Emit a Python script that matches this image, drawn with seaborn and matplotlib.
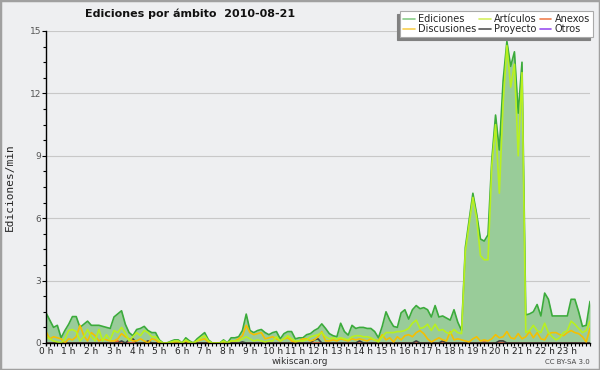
import numpy as np
import pandas as pd
import matplotlib
matplotlib.use("Agg")
import matplotlib.pyplot as plt
from matplotlib.lines import Line2D
from matplotlib.patches import Rectangle
import seaborn as sns

# ---- data (10-minute steps, 0h .. 24h) ----
ediciones = [
    1.45, 1.1, 0.75, 0.85, 0.25, 0.6,
    0.9, 1.27, 1.27, 0.75, 0.9, 1.05,
    0.85, 0.85, 0.85, 0.8, 0.75, 0.7,
    1.25, 1.4, 1.55, 0.9, 0.5, 0.35,
    0.65, 0.7, 0.8, 0.6, 0.5, 0.5,
    0.15, 0.0, 0.0, 0.08, 0.15, 0.15,
    0.0, 0.25, 0.1, 0.0, 0.2, 0.35,
    0.5, 0.15, 0.0, 0.0, 0.0, 0.15,
    0.0, 0.25, 0.25, 0.3, 0.6, 1.39,
    0.6, 0.5, 0.6, 0.65, 0.5, 0.4,
    0.5, 0.55, 0.2, 0.45, 0.55, 0.55,
    0.2, 0.25, 0.25, 0.4, 0.45, 0.6,
    0.7, 0.92, 0.7, 0.45, 0.35, 0.3,
    0.95, 0.55, 0.38, 0.85, 0.7, 0.75,
    0.75, 0.7, 0.7, 0.55, 0.25, 0.8,
    1.5, 1.1, 0.8, 0.75, 1.45, 1.6,
    1.15, 1.6, 1.8, 1.65, 1.7, 1.6,
    1.25, 1.8, 1.25, 1.3, 1.2, 1.1,
    1.6, 1.0, 0.6, 4.6, 5.9, 7.2,
    6.2, 5.0, 4.9, 5.2, 8.8, 10.96,
    9.28, 12.6, 14.5, 13.3, 14.0, 11.05,
    13.5, 1.35, 1.4, 1.5, 1.85, 1.3,
    2.4, 2.1, 1.3, 1.3, 1.3, 1.3,
    1.3, 2.1, 2.1, 1.5, 0.8, 0.85,
    2.0,
]
articulos = [
    0.3, 0.2, 0.1, 0.05, 0.0, 0.2,
    0.6, 0.65, 0.55, 0.1, 0.3, 0.65,
    0.3, 0.1, 0.65, 0.1, 0.4, 0.15,
    0.6, 0.5, 0.75, 0.5, 0.1, 0.3,
    0.5, 0.35, 0.6, 0.5, 0.3, 0.3,
    0.1, 0.0, 0.0, 0.05, 0.1, 0.1,
    0.0, 0.15, 0.05, 0.0, 0.1, 0.25,
    0.35, 0.1, 0.0, 0.0, 0.0, 0.1,
    0.0, 0.1, 0.1, 0.1, 0.2, 0.3,
    0.2, 0.1, 0.15, 0.1, 0.05, 0.1,
    0.1, 0.3, 0.1, 0.2, 0.35, 0.2,
    0.1, 0.1, 0.1, 0.15, 0.3, 0.35,
    0.4, 0.5, 0.3, 0.2, 0.25, 0.2,
    0.25, 0.2, 0.15, 0.3, 0.35, 0.35,
    0.3, 0.3, 0.25, 0.15, 0.05, 0.3,
    0.5, 0.5, 0.5, 0.55, 0.55, 0.6,
    0.7, 0.95, 1.1, 0.7, 0.75, 0.9,
    0.6, 0.9, 0.6, 0.65, 0.5, 0.45,
    0.65, 0.5, 0.45, 4.4, 5.7, 7.0,
    6.0, 4.2, 4.0, 4.0, 8.5, 10.5,
    7.2, 11.5, 14.3, 12.3, 13.4, 9.0,
    13.0, 0.5, 0.6, 0.85, 0.6, 0.5,
    0.95, 0.5, 0.3, 0.15, 0.25, 0.5,
    0.6, 1.05, 0.9, 0.7, 0.5, 0.6,
    1.05,
]
discusiones = [
    0.55, 0.2, 0.3, 0.25, 0.2, 0.0,
    0.2, 0.15, 0.3, 0.85, 0.35, 0.1,
    0.5, 0.35, 0.1, 0.2, 0.15, 0.1,
    0.1, 0.2, 0.45, 0.3, 0.2, 0.1,
    0.1, 0.2, 0.1, 0.0, 0.2, 0.15,
    0.0, 0.0, 0.0, 0.0, 0.05, 0.05,
    0.0, 0.1, 0.0, 0.0, 0.1, 0.15,
    0.2, 0.05, 0.0, 0.0, 0.0, 0.05,
    0.0, 0.1, 0.1, 0.2, 0.35, 0.85,
    0.5, 0.4, 0.45, 0.5, 0.2, 0.25,
    0.3, 0.2, 0.1, 0.2, 0.25, 0.1,
    0.05, 0.1, 0.2, 0.2, 0.1, 0.15,
    0.3, 0.55, 0.1, 0.1, 0.15, 0.1,
    0.2, 0.15, 0.1, 0.2, 0.15, 0.2,
    0.15, 0.1, 0.2, 0.15, 0.1, 0.4,
    0.15, 0.25, 0.05, 0.3, 0.15, 0.35,
    0.4, 0.3, 0.5, 0.6, 0.45, 0.2,
    0.05, 0.15, 0.25, 0.15, 0.1, 0.55,
    0.15, 0.2, 0.15, 0.1, 0.05, 0.2,
    0.3, 0.1, 0.15, 0.1, 0.2, 0.4,
    0.25, 0.3, 0.55, 0.25, 0.2, 0.45,
    0.2, 0.3, 0.55, 0.25, 0.5, 0.2,
    0.15, 0.45, 0.5, 0.5, 0.4, 0.35,
    0.5, 0.6, 0.5, 0.45, 0.3, 0.05,
    0.7,
]
proyecto_bumps = {20: 0.1, 22: 0.15, 23: 0.2, 27: 0.1, 52: 0.05, 71: 0.15,
                  72: 0.2, 83: 0.1, 98: 0.1, 105: 0.1, 120: 0.1, 121: 0.1}
anexos_bumps = {19: 0.1, 116: 0.05}

n = len(ediciones)
hours = [i / 6 for i in range(n)]
proyecto = [proyecto_bumps.get(i, 0.0) for i in range(n)]
anexos = [anexos_bumps.get(i, 0.0) for i in range(n)]
otros = [0.0] * n

line_colors = {"Ediciones": "#3bab3b", "Artículos": "#b8f020", "Anexos": "#f06a2a",
               "Discusiones": "#f5c000", "Proyecto": "#444444", "Otros": "#9a3cf0"}
legend_colors = {"Ediciones": "#88cc88", "Artículos": "#d4f060", "Anexos": "#f08050",
                 "Discusiones": "#f8d050", "Proyecto": "#555555", "Otros": "#9a50f0"}

df = pd.DataFrame({"h": hours, "Ediciones": ediciones, "Artículos": articulos,
                   "Discusiones": discusiones, "Anexos": anexos,
                   "Proyecto": proyecto, "Otros": otros})

bg = "#eeeff1"
sns.set_theme(style="white")
plt.rcParams["font.family"] = ["DejaVu Sans"]

fig = plt.figure(figsize=(6, 3.7), dpi=100, facecolor=bg)
ax = fig.add_axes([46 / 600, 1 - 343 / 370, 544 / 600, 312 / 370])
ax.set_facecolor(bg)

ax.fill_between(df["h"], 0, df["Ediciones"], color="#99cc99", alpha=1.0, lw=0, zorder=2)
for name in ["Otros", "Anexos", "Proyecto", "Ediciones", "Discusiones", "Artículos"]:
    sns.lineplot(data=df, x="h", y=name, ax=ax, color=line_colors[name],
                 lw=1.2, zorder=3, legend=False)

ax.set_xlim(0, 24)
ax.set_ylim(0, 15)
ax.set_xlabel("")
ax.set_ylabel("Ediciones/min", family="DejaVu Sans Mono", fontsize=8, va="center")
ax.yaxis.set_label_coords(-(46 - 10) / 544, 0.5)

ax.set_yticks([0, 3, 6, 9, 12, 15])
ax.set_yticks(np.arange(0, 15.01, 0.75), minor=True)
ax.set_yticklabels(["0", "3", "6", "9", "12", "15"], fontsize=6.5, color="#555555")
ax.set_xticks(range(24))
ax.set_xticklabels([f"{h} h" for h in range(24)], fontsize=6.5, color="#222222")
ax.set_xticks(np.arange(0, 24.01, 1 / 6), minor=True)
ax.tick_params(axis="y", which="major", length=3, width=0.8, color="black", pad=0.5, direction="out", left=True)
ax.tick_params(axis="y", which="minor", length=2, width=0.8, color="black", direction="out", left=True)
ax.tick_params(axis="x", which="major", length=2.5, width=1, color="black", pad=0.5, direction="out", bottom=True)
ax.tick_params(axis="x", which="minor", length=2.2, width=0.8, color="black", direction="out", bottom=True)

ax.grid(axis="y", which="major", color="#c8c8c8", lw=0.8, zorder=1)
ax.grid(axis="x", visible=False)
for s in ["top", "right"]:
    ax.spines[s].set_visible(False)
for s in ["left", "bottom"]:
    ax.spines[s].set_color("black")
    ax.spines[s].set_linewidth(1)
    ax.spines[s].set_zorder(5)
ax.set_axisbelow(True)

# legend
order = ["Ediciones", "Discusiones", "Artículos", "Proyecto", "Anexos", "Otros"]
handles = [Line2D([0], [0], color=legend_colors[k], lw=1.2) for k in order]
leg = fig.legend(handles, order, loc="upper right", bbox_to_anchor=(593 / 600, 1 - 11 / 370),
                 ncol=3, fontsize=7, frameon=True, fancybox=False, handlelength=1.2,
                 handletextpad=0.35, columnspacing=0.3, labelspacing=0.0, borderpad=0.3,
                 borderaxespad=0.0,
                 shadow={"ox": -2, "oy": -2, "color": "#808080", "alpha": 1.0})
leg.get_frame().set_facecolor("white")
leg.get_frame().set_edgecolor("#aaaaaa")
leg.get_frame().set_linewidth(0.8)

fig.text(85 / 600, 1 - 14 / 370, "Ediciones por ámbito  2010-08-21", fontsize=8,
         fontweight="bold", ha="left", va="center", color="#111111")
fig.text(300 / 600, 1 - 361 / 370, "wikiscan.org", fontsize=6.5, ha="center", va="center",
         color="#333333")
fig.text(590 / 600, 1 - 362 / 370, "CC BY-SA 3.0", fontsize=5, ha="right", va="center",
         color="#444444")

fig.patches.append(Rectangle((0, 0), 1, 1, transform=fig.transFigure, fill=False,
                             edgecolor="#a0a0a0", lw=2.5))

fig.savefig("out.png", dpi=100, facecolor=bg)
